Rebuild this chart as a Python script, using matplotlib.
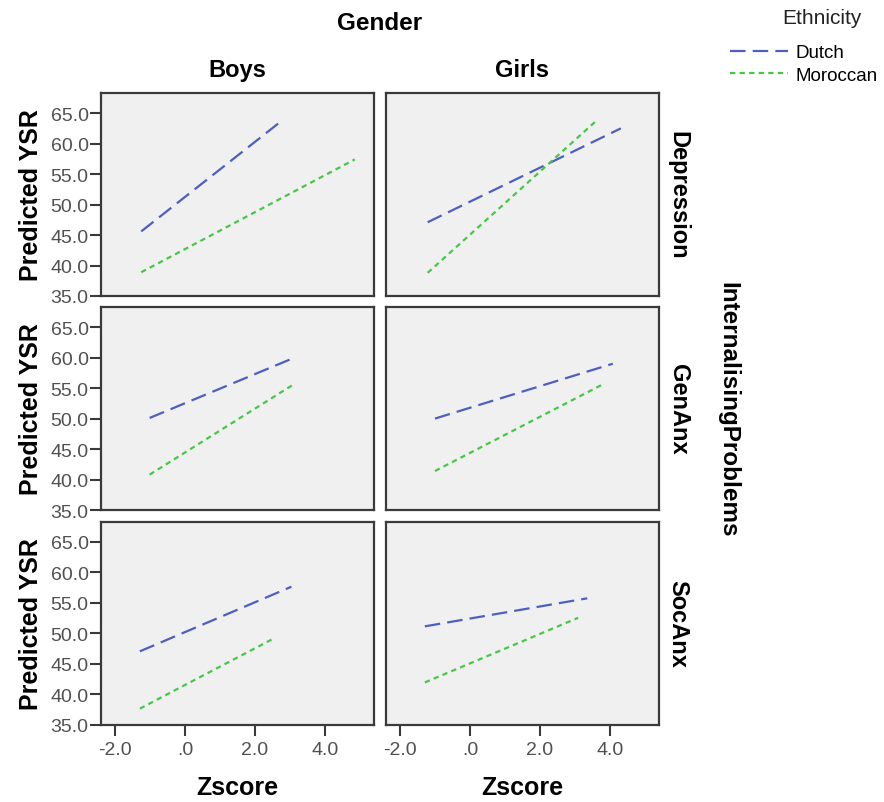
import matplotlib
matplotlib.use('Agg')
from matplotlib import pyplot as plt
from matplotlib.ticker import FuncFormatter
from matplotlib.lines import Line2D

plt.rcParams['font.family'] = ['Liberation Sans', 'DejaVu Sans']

# rows and columns of the panel grid
outcomes = ['Depression', 'GenAnx', 'SocAnx']
genders = ['Boys', 'Girls']
ethnicities = ['Dutch', 'Moroccan']

# line endpoints, one pair per outcome row
dutch_boys_x = [(-1.25, 2.71), (-1.01, 3.13), (-1.29, 3.04)]
dutch_boys_y = [(45.6, 63.5), (50.1, 60.0), (47.0, 57.6)]
moroccan_boys_x = [(-1.25, 4.85), (-1.01, 3.13), (-1.29, 2.53)]
moroccan_boys_y = [(38.9, 57.4), (40.8, 55.7), (37.6, 49.1)]
dutch_girls_x = [(-1.21, 4.31), (-1.0, 4.08), (-1.29, 3.35)]
dutch_girls_y = [(47.1, 62.5), (50.0, 59.0), (51.1, 55.7)]
moroccan_girls_x = [(-1.21, 3.62), (-1.0, 3.79), (-1.29, 3.09)]
moroccan_girls_y = [(38.8, 63.8), (41.4, 55.6), (41.9, 52.5)]

y_ticks = [35, 40, 45, 50, 55, 60, 65]
x_ticks = [-2, 0, 2, 4]

series = {
    ('Boys', 'Dutch'): (dutch_boys_x, dutch_boys_y),
    ('Boys', 'Moroccan'): (moroccan_boys_x, moroccan_boys_y),
    ('Girls', 'Dutch'): (dutch_girls_x, dutch_girls_y),
    ('Girls', 'Moroccan'): (moroccan_girls_x, moroccan_girls_y),
}
colors = {'Dutch': '#4b60c0', 'Moroccan': '#46c846'}
dashes = {'Dutch': (7, 3.2), 'Moroccan': (2.4, 1.9)}

frame_c = '#3a3a3a'
tick_c = '#505050'


def fmt(v, pos):
    s = '%.1f' % v
    if s.startswith('0.'):
        s = s[1:]
    return s


fig = plt.figure(figsize=(8.84, 8.03), dpi=100)

W, H = 884.0, 803.0
col_left = [101, 386]
col_width = 273
row_top = [94, 308, 522.5]
row_height = 203

for r, outcome in enumerate(outcomes):
    for c, gender in enumerate(genders):
        left = col_left[c] / W
        bottom = 1 - (row_top[r] + row_height) / H
        ax = fig.add_axes([left, bottom, col_width / W, row_height / H])
        ax.set_facecolor('#f0f0f0')
        for eth in ethnicities:
            xs, ys = series[(gender, eth)]
            ax.plot(xs[r], ys[r], color=colors[eth], lw=1.6,
                    dashes=dashes[eth], solid_capstyle='butt')
        ax.set_xlim(-2.4, 5.4)
        ax.set_ylim(35, 68.3)
        for sp in ax.spines.values():
            sp.set_color(frame_c)
            sp.set_linewidth(1.6)
        ax.set_yticks(y_ticks)
        ax.set_xticks(x_ticks)
        ax.yaxis.set_major_formatter(FuncFormatter(fmt))
        ax.xaxis.set_major_formatter(FuncFormatter(fmt))
        ax.tick_params(axis='both', colors=frame_c, labelcolor=tick_c,
                       width=1.5, length=8, labelsize=14, pad=1)
        if c != 0:
            ax.tick_params(axis='y', left=False, labelleft=False)
        else:
            ax.set_ylabel('Predicted YSR', fontsize=18, fontweight='bold',
                          labelpad=5)
        if r != len(outcomes) - 1:
            ax.tick_params(axis='x', bottom=False, labelbottom=False)
        else:
            ax.tick_params(axis='x', pad=4)
            ax.set_xlabel('Zscore', fontsize=18, fontweight='bold',
                          labelpad=12)
        if r == 0:
            ax.set_title(gender, fontsize=17, fontweight='bold', pad=12)
        if c == 1:
            ax.text(1.07, 0.5, outcome, transform=ax.transAxes,
                    rotation=-90, ha='center', va='center',
                    fontsize=17, fontweight='bold')

# strip titles for the facets
fig.text(380 / W, 1 - 23 / H, 'Gender', ha='center', va='center',
         fontsize=17.5, fontweight='bold')
fig.text(728 / W, 1 - 410 / H, 'InternalisingProblems', ha='center',
         va='center', rotation=-90, fontsize=17.5, fontweight='bold')

# legend
handles = [Line2D([], [], color=colors[e], lw=1.6, dashes=dashes[e])
           for e in ethnicities]
fig.text(822 / W, 1 - 19 / H, 'Ethnicity', ha='center', va='center',
         fontsize=15, color='#222222')
fig.legend(handles, ethnicities, loc='upper left',
           bbox_to_anchor=(730 / W, 1 - 45 / H), frameon=False,
           fontsize=13.5, handlelength=3.1, handletextpad=0.4,
           labelspacing=0.3, borderpad=0, borderaxespad=0)

fig.savefig('out.png', dpi=100)
